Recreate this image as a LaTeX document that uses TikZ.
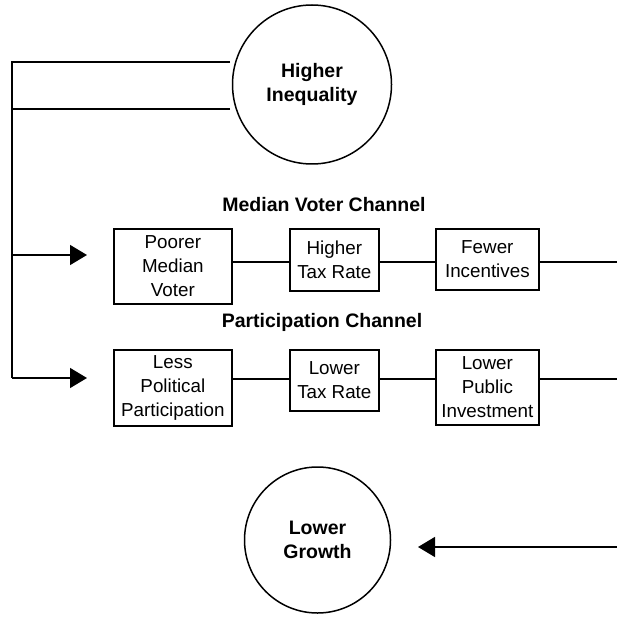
\documentclass[tikz,border=0pt]{standalone}
\usepackage{fontspec}
\setmainfont{Liberation Sans}
\usetikzlibrary{arrows.meta}
\begin{document}
\begin{tikzpicture}[x=1pt,y=-1pt,
  ln/.style={line width=1.5pt},
  arr/.style={-{Triangle[length=17pt,width=20pt]}},
  circ/.style={draw,circle,line width=1.5pt,inner sep=0pt,align=center,
    font=\fontsize{19.5}{24}\selectfont\bfseries},
  box/.style={draw,rectangle,line width=1.7pt,inner sep=0pt,align=center,anchor=north west,
    font=\fontsize{18.8}{24}\selectfont},
  title/.style={inner sep=0pt,font=\fontsize{19.5}{24}\selectfont\bfseries}]
\useasboundingbox (0,0) rectangle (617,617);
\fill[white] (0,0) rectangle (617,617);
% circles
\node[circ,minimum size=159pt] (hi) at (312,84.5) {Higher\\Inequality};
\node[circ,minimum size=146pt] (lo) at (317.5,540) {Lower\\Growth};
% titles
\node[title] (t1) at (324,205) {Median Voter Channel};
\node[title] (t2) at (322,322) {Participation Channel};
% row 1
\node[box,minimum width=118pt,minimum height=75pt] (b11) at (113,228) {Poorer\\Median\\Voter};
\node[box,minimum width=89pt,minimum height=62pt] (b12) at (289,228) {Higher\\Tax Rate};
\node[box,minimum width=103pt,minimum height=61pt] (b13) at (435,228) {Fewer\\Incentives};
% row 2
\node[box,minimum width=118pt,minimum height=76pt] (b21) at (113,349) {Less\\Political\\Participation};
\node[box,minimum width=89pt,minimum height=61pt] (b22) at (289,349) {Lower\\Tax Rate};
\node[box,minimum width=103pt,minimum height=75pt] (b23) at (435,349) {Lower\\Public\\Investment};
% coordinates
\coordinate (hA) at (230,62);
\coordinate (hB) at (230,109);
\coordinate (cA) at (12,62);
\coordinate (cB) at (12,109);
\coordinate (cR1) at (12,255);
\coordinate (cR2) at (12,378);
\coordinate (tip1) at (87,255);
\coordinate (tip2) at (87,378);
\coordinate (e1) at (617,262);
\coordinate (e2) at (617,379);
\coordinate (e3) at (617,547);
\coordinate (tip3) at (418,547);
% left connectors
\draw[ln] (hA) -- (cA) -- (cR2);
\draw[ln] (hB) -- (cB);
\draw[ln,arr] (cR1) -- (tip1);
\draw[ln,arr] (cR2) -- (tip2);
% row connectors
\draw[ln] (b11.east |- e1) -- (b12.west |- e1);
\draw[ln] (b12.east |- e1) -- (b13.west |- e1);
\draw[ln] (b13.east |- e1) -- (e1);
\draw[ln] (b21.east |- e2) -- (b22.west |- e2);
\draw[ln] (b22.east |- e2) -- (b23.west |- e2);
\draw[ln] (b23.east |- e2) -- (e2);
% bottom arrow
\draw[ln,arr] (e3) -- (tip3);
\end{tikzpicture}
\end{document}
